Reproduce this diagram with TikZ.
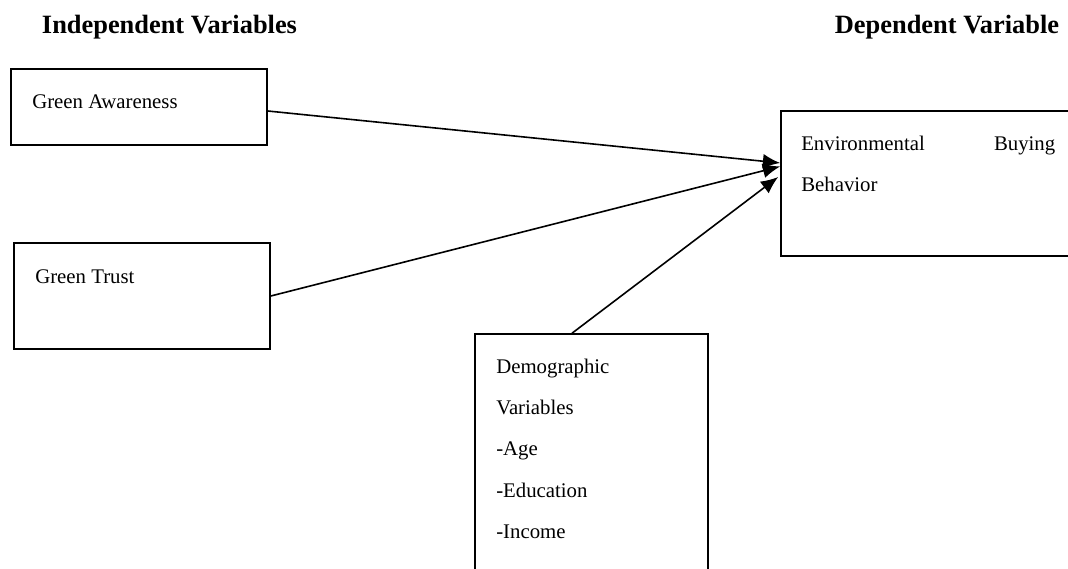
\documentclass[tikz,border=0pt]{standalone}
\usepackage{fontspec}
\setmainfont{Liberation Serif}
\usetikzlibrary{arrows.meta,positioning}

\begin{document}
\begin{tikzpicture}[x=0.75pt, y=-0.75pt,
                >={Latex[length=13pt,width=11pt]},
                every node/.append style={align=left, inner sep=0pt},
                var/.style={draw, line width=1.2pt},
                txt/.style={font=\fontsize{15.6}{31}\selectfont, anchor=base west},
                head/.style={font=\fontsize{19.8}{24}\selectfont\bfseries, anchor=base}]
  \useasboundingbox (0,0) rectangle (1068,568);

  \node[head] (indep) at (169.5,33) {Independent Variables};
  \node[head] (dep)   at (947,33)   {Dependent Variable};

  \node[var, minimum width=192pt, minimum height=57pt]      (aware) at (139,107)   {};
  \node[var, minimum width=192pt, minimum height=79.5pt]    (trust) at (142,296)   {};
  \node[var, minimum width=228pt, minimum height=108.75pt]  (behav) at (933,183.5) {};
  \node[var, minimum width=174.75pt, minimum height=199.5pt] (demo) at (591.5,467) {};

  \node[txt] (awaretxt) at (32,108)  {Green Awareness};
  \node[txt] (trusttxt) at (35,283)  {Green Trust};
  \node[txt, text width=190.5pt] (behavtxt) at (801,150) {Environmental\hfill Buying\\Behavior};
  \node[txt, text width=150pt]   (demotxt)  at (496,373) {Demographic\\Variables\\-Age\\-Education\\-Income};

  \path[->, line width=1.2pt]
        ([yshift=-3pt]aware.east) edge ([yshift=15.4pt]behav.west)
        (trust.east) edge ([yshift=12.8pt]behav.west)
        ([xshift=-14.6pt]demo.north) edge ([xshift=-1.5pt,yshift=4.9pt]behav.west);
\end{tikzpicture}
\end{document}
